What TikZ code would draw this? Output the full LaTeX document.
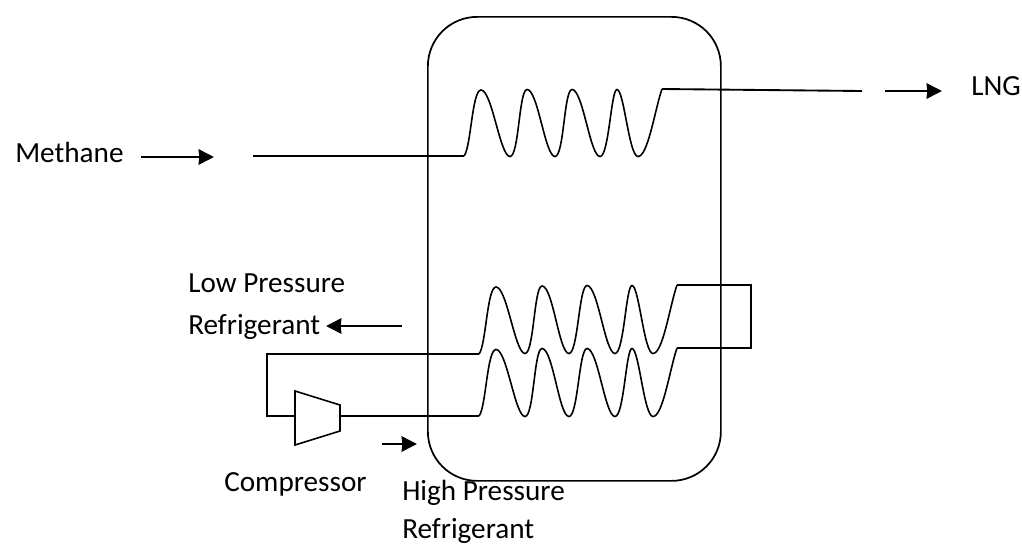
\documentclass[tikz,border=0pt]{standalone}
\usepackage{fontspec}
\setmainfont{Carlito}
\usetikzlibrary{arrows.meta}
\tikzset{
  wire/.style={line width=1.4pt,black,line join=miter},
  flow/.style={line width=1.8pt,black,-{Stealth[length=11.5pt,width=11.5pt,inset=0.5pt]}},
  lbl/.style={inner sep=0pt,font=\fontsize{21.9pt}{26pt}\selectfont,anchor=base west},
  coil/.style={line width=1.2pt,black}
}
\begin{document}
\begin{tikzpicture}[x=0.75pt,y=-0.75pt]
\useasboundingbox (0,0) rectangle (1022,544);
% vessel
\node[draw,line width=1.3pt,minimum width=219.75pt,minimum height=348pt,rounded corners=37pt,inner sep=0pt,anchor=north west] (vessel) at (427,16) {};
% coordinates
\coordinate (mIn) at (253,156);
\coordinate (c1s) at (464,156);
\coordinate (c1e) at (662,89);
\coordinate (lngOut) at (862,91);
\coordinate (c2s) at (479,354);
\coordinate (c2e) at (677,285);
\coordinate (c3s) at (479,416);
\coordinate (c3e) at (677,348);
\coordinate (loopTR) at (751,285);
\coordinate (loopBR) at (751,348);
\coordinate (backTL) at (267,354);
\coordinate (backBL) at (267,416);
% compressor
\coordinate (k1) at (295,391);
\coordinate (k2) at (340,405);
\coordinate (k3) at (340,431);
\coordinate (k4) at (295,445);
\coordinate (kIn) at (295,416);
\coordinate (kOut) at (340,416);
\draw[coil] (k1) -- (k2) -- (k3) -- (k4) -- cycle;
% lines
\draw[wire] (mIn) -- (c1s);
\draw[wire] (c1e) -- (lngOut);
\draw[wire] (c2s) -- (backTL) -- (backBL) -- (kIn);
\draw[wire] (kOut) -- (c3s);
\draw[wire] (c2e) -- (loopTR) -- (loopBR) -- (c3e);
% top coil
\draw[coil] (c1s) .. controls +(7,-8) and +(-9,0) .. (481,90)
 .. controls +(11,0) and +(-10,0) .. (510,156.5)
 .. controls +(9,0) and +(-8,0) .. (527,89.5)
 .. controls +(11,0) and +(-10,0) .. (555,156.5)
 .. controls +(9,0) and +(-8,0) .. (572,89.5)
 .. controls +(11,0) and +(-10,0) .. (600,156.5)
 .. controls +(9,0) and +(-6,0) .. (617,89.5)
 .. controls +(7,0) and +(-9,0) .. (638,156.5)
 .. controls +(10,0) and +(-7,20) .. (c1e);
% middle coil
\draw[coil] (c2s) .. controls +(7,-8) and +(-9,0) .. (496,287)
 .. controls +(11,0) and +(-10,0) .. (525,353.5)
 .. controls +(9,0) and +(-8,0) .. (542,286)
 .. controls +(11,0) and +(-10,0) .. (569,353.5)
 .. controls +(9,0) and +(-8,0) .. (587,285.5)
 .. controls +(11,0) and +(-10,0) .. (615,353.5)
 .. controls +(9,0) and +(-6,0) .. (632,285.5)
 .. controls +(7,0) and +(-9,0) .. (653,353.5)
 .. controls +(10,0) and +(-7,20) .. (c2e);
% lower coil
\draw[coil] (c3s) .. controls +(7,-8) and +(-9,0) .. (496,349.5)
 .. controls +(11,0) and +(-10,0) .. (525,416.5)
 .. controls +(9,0) and +(-8,0) .. (542,348.5)
 .. controls +(11,0) and +(-10,0) .. (569,416.5)
 .. controls +(9,0) and +(-8,0) .. (587,348.5)
 .. controls +(11,0) and +(-10,0) .. (615,416.5)
 .. controls +(9,0) and +(-6,0) .. (632,348.5)
 .. controls +(7,0) and +(-9,0) .. (653,416.5)
 .. controls +(10,0) and +(-7,20) .. (c3e);
% flow arrows
\coordinate (a1s) at (141,157); \coordinate (a1e) at (214,157);
\coordinate (a2s) at (885,91); \coordinate (a2e) at (942,91);
\coordinate (a3s) at (402,326); \coordinate (a3e) at (326,326);
\coordinate (a4s) at (382,444); \coordinate (a4e) at (417,444);
\draw[flow] (a1s) -- (a1e);
\draw[flow] (a2s) -- (a2e);
\draw[flow] (a3s) -- (a3e);
\draw[flow] (a4s) -- (a4e);
% labels
\node[lbl] (tMethane) at (15,162) {Methane};
\node[lbl] (tLNG) at (971,95) {LNG};
\node[lbl] (tLow1) at (188,292) {Low Pressure};
\node[lbl] (tLow2) at (188,334) {Refrigerant};
\node[lbl] (tComp) at (224,491) {Compressor};
\node[lbl] (tHigh1) at (402,500) {High Pressure};
\node[lbl] (tHigh2) at (402,538) {Refrigerant};
\end{tikzpicture}
\end{document}
